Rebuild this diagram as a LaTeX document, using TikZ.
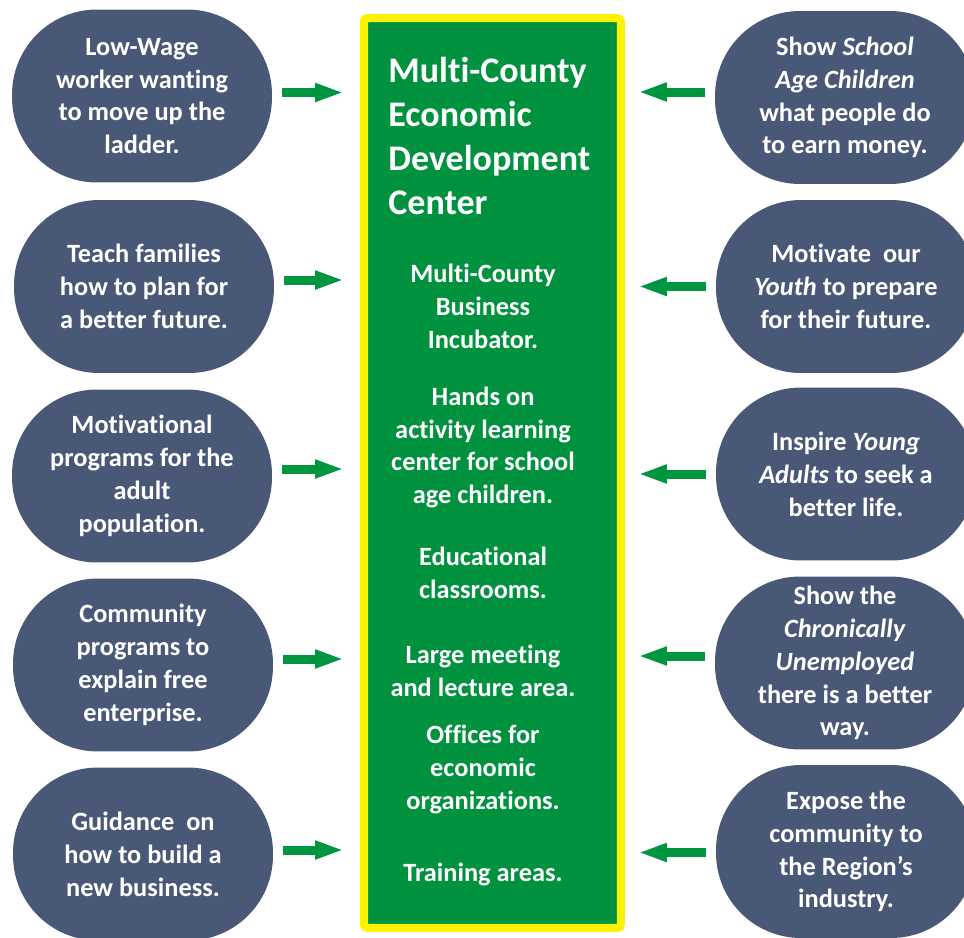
\documentclass[tikz,border=0pt]{standalone}
\usepackage{fontspec}
\setmainfont{Carlito}[Ligatures=NoCommon]
\usetikzlibrary{arrows.meta}

\definecolor{slate}{RGB}{74,88,120}
\definecolor{boxgreen}{RGB}{0,146,63}
\definecolor{feedgreen}{RGB}{0,150,64}

\begin{document}
\begin{tikzpicture}[x=0.02cm, y=-0.02cm,
    side node/.style={fill=slate, rounded corners=1.7cm, minimum width=5.2cm,
      minimum height=3.46cm, text=white, align=center,
      font=\bfseries\fontsize{15}{18.7}\selectfont},
    item node/.style={text=white, align=center, inner sep=0pt,
      font=\bfseries\fontsize{15}{18.7}\selectfont},
    title node/.style={text=white, align=left, inner sep=0pt,
      font=\bfseries\fontsize{20.5}{24.9}\selectfont},
    feed/.style={draw=feedgreen, line width=0.18cm,
      -{Triangle[length=0.58cm,width=0.34cm]}, shorten <=0.2cm}]

  \useasboundingbox (0,0) rectangle (964,937);

  % centre block
  \node[draw=yellow, fill=boxgreen, line width=0.16cm, rounded corners=2pt,
        minimum width=5.14cm, minimum height=18.2cm] (box) at (492.5,473) {};
  \node[title node, anchor=west] (title) at (388,136)
    {Multi-County\\Economic\\Development\\Center};
  \node[item node] (incubator) at (483,306.5) {Multi-County\\Business\\Incubator.};
  \node[item node] (hands) at (483,447.5)
    {Hands on\\activity learning\\center for school\\age children.};
  \node[item node] (classes) at (483,573) {Educational\\classrooms.};
  \node[item node] (meeting) at (483,670.5) {Large meeting\\and lecture area.};
  \node[item node] (offices) at (483,769.5) {Offices for\\economic\\organizations.};
  \node[item node] (training) at (483,874) {Training areas.};

  % left column
  \node[side node] (l1) at (142,96) {Low-Wage\\worker wanting\\to move up the\\ladder.};
  \node[side node] (l2) at (144,286.5) {Teach families\\how to plan for\\a better future.};
  \node[side node] (l3) at (142,476) {Motivational\\programs for the\\adult\\population.};
  \node[side node] (l4) at (143,665) {Community\\programs to\\explain free\\enterprise.};
  \node[side node] (l5) at (143,854) {Guidance\ \ on\\how to build a\\new business.};

  % right column
  \node[side node] (r1) at (845,97.5)
    {Show \textit{School}\\\textit{Age Children}\\what people do\\to earn money.};
  \node[side node] (r2) at (846,286.5)
    {Motivate\ \ our\\\textit{Youth} to prepare\\for their future.};
  \node[side node] (r3) at (846,474)
    {Inspire \textit{Young}\\\textit{Adults} to seek a\\better life.};
  \node[side node] (r4) at (845,663)
    {Show the\\\textit{Chronically}\\\textit{Unemployed}\\there is a better\\way.};
  \node[side node] (r5) at (846,851.5)
    {Expose the\\community to\\the Region’s\\industry.};

  % arrows into the centre
  \path[every edge/.style={feed, shorten >=0.32cm}]
    ([yshift=0.07cm]l1.east) edge ([yshift=0.07cm]l1.east -| box.west)
    ([yshift=0.13cm]l2.east) edge ([yshift=0.13cm]l2.east -| box.west)
    ([yshift=0.14cm]l3.east) edge ([yshift=0.14cm]l3.east -| box.west)
    ([yshift=0.12cm]l4.east) edge ([yshift=0.12cm]l4.east -| box.west)
    ([yshift=0.08cm]l5.east) edge ([yshift=0.08cm]l5.east -| box.west);
  \path[every edge/.style={feed, shorten >=0.26cm}]
    ([yshift=0.11cm]r1.west) edge ([yshift=0.11cm]r1.west -| box.east)
    (r2.west) edge (r2.west -| box.east)
    (r3.west) edge (r3.west -| box.east)
    ([yshift=0.14cm]r4.west) edge ([yshift=0.14cm]r4.west -| box.east)
    ([yshift=-0.02cm]r5.west) edge ([yshift=-0.02cm]r5.west -| box.east);
\end{tikzpicture}
\end{document}
